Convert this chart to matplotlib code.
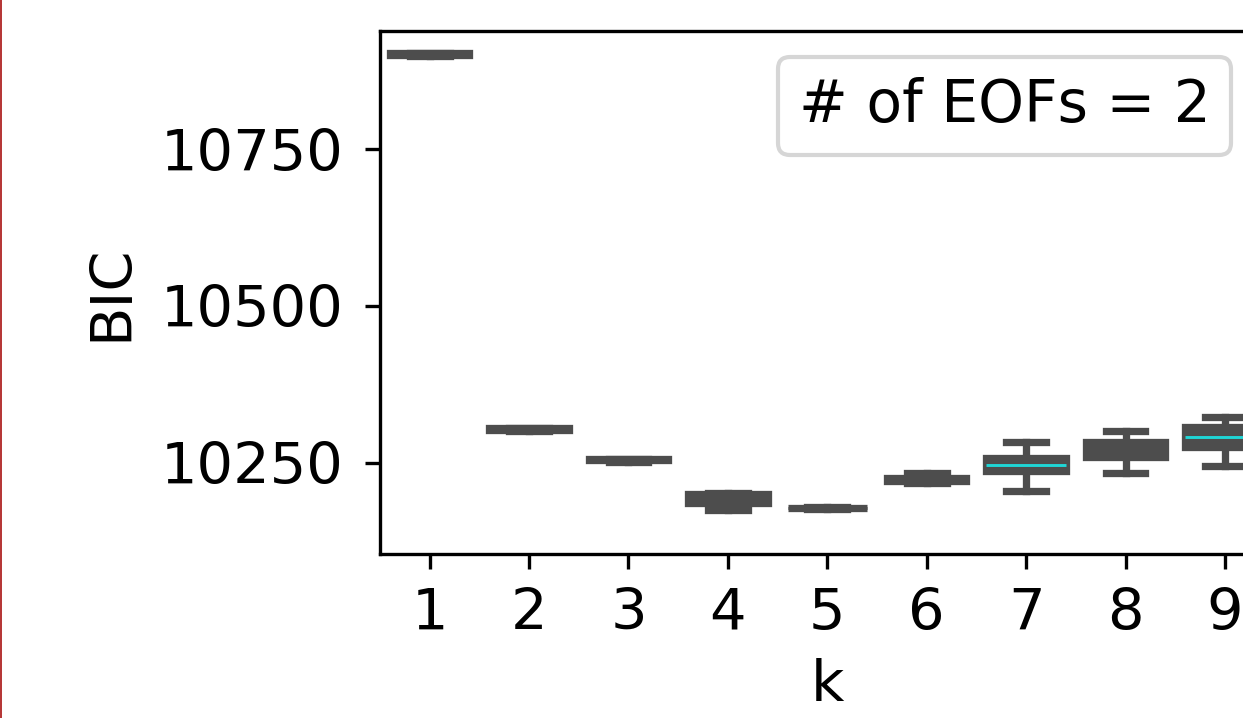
import matplotlib
matplotlib.use("Agg")
import matplotlib.pyplot as plt
from matplotlib.lines import Line2D

# BIC distribution for each number of clusters k (# of EOFs = 2)
k_values = [1, 2, 3, 4, 5, 6, 7, 8, 9]
whislo = [10899, 10300, 10251, 10174, 10176, 10218, 10204, 10233, 10245]
q1 = [10901, 10302.5, 10253.5, 10186, 10177, 10221, 10236, 10259, 10275]
med = [10902, 10303.5, 10254, 10192, 10177.5, 10223, 10245.5, 10270, 10291]
q3 = [10903, 10304.5, 10255, 10199, 10178, 10226, 10258, 10283, 10307]
whishi = [10904, 10305, 10255.5, 10202, 10179, 10234, 10283, 10301, 10323]

legend_label = "# of EOFs = 2"

gray = '#4d4d4d'
cyan = '#20d6d6'
# only the medians of k=7 and k=9 show up in the original
median_colors = [gray] * 6 + [cyan, gray, cyan]

W, H, DPI = 1243, 718, 300
fig = plt.figure(figsize=(W / DPI, H / DPI), dpi=DPI)
fs = 13.8

# axes run past the right edge, like in the cropped original
left, top, bottom, right = 380, 30.8, 554, 380 + 9 * 99.4
ax = fig.add_axes([left / W, 1 - bottom / H, (right - left) / W, (bottom - top) / H])

stats = []
for i, k in enumerate(k_values):
    stats.append(dict(label=str(k), whislo=whislo[i], q1=q1[i], med=med[i],
                      q3=q3[i], whishi=whishi[i], fliers=[]))

bp = ax.bxp(stats, positions=range(len(k_values)), widths=0.8, capwidths=0.4,
            patch_artist=True, showfliers=False,
            boxprops=dict(facecolor=gray, edgecolor=gray, linewidth=1.75),
            whiskerprops=dict(color=gray, linewidth=1.75),
            capprops=dict(color=gray, linewidth=1.75),
            medianprops=dict(linewidth=0.7))
for line, c in zip(bp['medians'], median_colors):
    line.set_color(c)

ax.set_xlim(-0.5, len(k_values) - 0.5)
ax.set_ylim(10104, 10939)
ax.set_yticks([10250, 10500, 10750])
ax.set_xticks(range(len(k_values)))
ax.set_xticklabels([str(k) for k in k_values])
ax.tick_params(labelsize=fs)
ax.tick_params(axis='y', pad=5.3)
ax.tick_params(axis='x', pad=4.3)
ax.set_xlabel('k', fontsize=fs)
ax.set_ylabel('BIC', fontsize=fs, labelpad=5)

ax.legend(handles=[Line2D([], [], alpha=0)], labels=[legend_label],
          handlelength=0, handletextpad=0, fontsize=14, borderpad=0.35,
          loc='upper right', borderaxespad=0,
          bbox_to_anchor=(1231 / W, 1 - 57 / H), bbox_transform=fig.transFigure)

# thin red border line at the left edge of the crop
fig.add_artist(Line2D([0.7 / W, 0.7 / W], [0, 1], color='#a81010', linewidth=0.4))

fig.savefig('out.png', dpi=DPI)
